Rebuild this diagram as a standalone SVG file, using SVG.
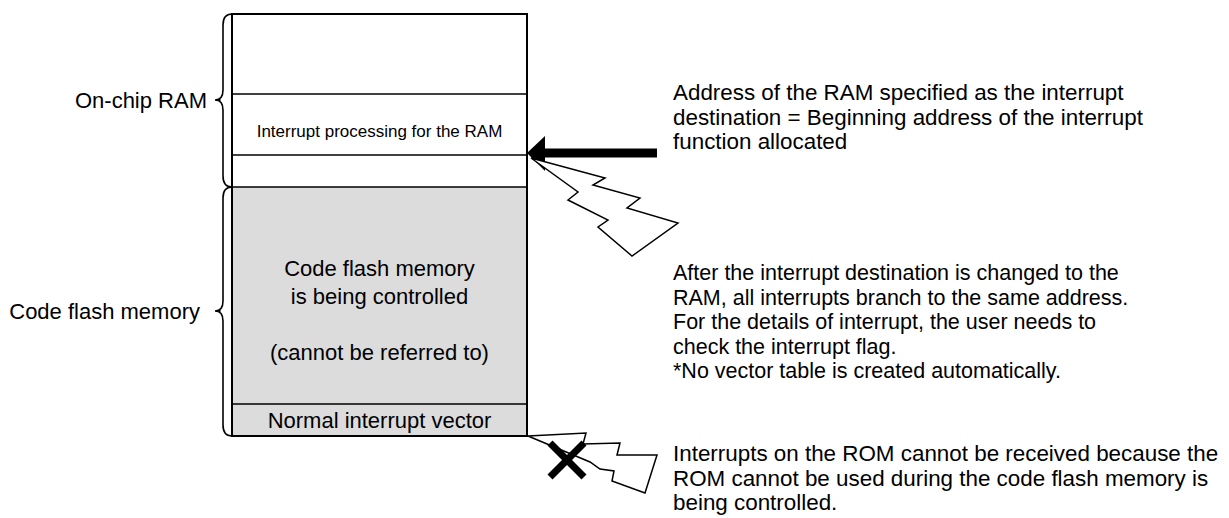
<svg xmlns="http://www.w3.org/2000/svg" width="1229" height="518" viewBox="0 0 1229 518">
<style>
text{font-family:"Liberation Sans",Arial,sans-serif;fill:#000}
.big{font-size:22px}
.mid{font-size:21.5px}
.wide{font-size:22.4px}
.sm{font-size:17px}
.ln{stroke:#000;stroke-width:1.5;fill:none}
.br{stroke:#000;stroke-width:1.6;fill:none}
.bolt{fill:#fff;stroke:#000;stroke-width:1.5;stroke-linejoin:miter}
</style>
<rect width="1229" height="518" fill="#fff"/>
<g id="memory">
<rect x="232" y="187" width="295" height="249" fill="#dcdcdc"/>
<rect x="232" y="14" width="295" height="422" fill="none" stroke="#000" stroke-width="2"/>
<line class="ln" x1="232" y1="94" x2="527" y2="94"/>
<line class="ln" x1="232" y1="155" x2="527" y2="155"/>
<line class="ln" x1="232" y1="187" x2="527" y2="187"/>
<line class="ln" x1="232" y1="404" x2="527" y2="404"/>
</g>
<g id="ram-interrupt">
<text class="sm" x="379.5" y="137" text-anchor="middle">Interrupt processing for the RAM</text>
</g>
<g id="flash-controlled">
<text class="big" x="379.5" y="276" text-anchor="middle">Code flash memory</text>
<text class="big" x="379.5" y="304" text-anchor="middle">is being controlled</text>
<text class="big" x="379.5" y="360" text-anchor="middle">(cannot be referred to)</text>
</g>
<g id="normal-vector">
<text class="big" x="379.5" y="428" text-anchor="middle">Normal interrupt vector</text>
</g>
<g id="onchip-ram-label">
<path class="br" d="M232,14 Q223,14 223,25 L223,90 Q223,100 215,100 Q223,100 223,110 L223,176 Q223,187 232,187"/>
<circle cx="219.5" cy="100" r="1.2" fill="#000"/>
<text class="big" x="207" y="108" text-anchor="end">On-chip RAM</text>
</g>
<g id="flash-label">
<path class="br" d="M232,187 Q223,187 223,198 L223,301 Q223,311 215,311 Q223,311 223,321 L223,425 Q223,436 232,436"/>
<circle cx="219.5" cy="311" r="1.2" fill="#000"/>
<text class="big" x="200" y="319" text-anchor="end">Code flash memory</text>
</g>
<g id="connectors">
<path d="M657,148.5 L545,148.5 L545,136 L527,153 L545,171 L545,157.5 L657,157.5 Z" fill="#000"/>
<polygon class="bolt" points="531,158 605,178 593,185 640,198 627,208 678,223 632,256 598,227 608,220 568,200 578,192"/>
<polygon class="bolt" points="528,436 586,433 583,444 620,443 617,455 657,455 645,493 612,481 614,471 600,469 590,462"/>
<g stroke="#000" stroke-width="7" stroke-linecap="butt">
<line x1="550" y1="443" x2="584" y2="477"/>
<line x1="584" y1="443" x2="550" y2="477"/>
</g>
</g>
<g id="note-address">
<text class="wide" x="673" y="100">Address of the RAM specified as the interrupt</text>
<text class="wide" x="673" y="125">destination = Beginning address of the interrupt</text>
<text class="wide" x="673" y="149">function allocated</text>
</g>
<g id="note-branch">
<text class="mid" x="673" y="280">After the interrupt destination is changed to the</text>
<text class="mid" x="673" y="305">RAM, all interrupts branch to the same address.</text>
<text class="mid" x="673" y="329">For the details of interrupt, the user needs to</text>
<text class="mid" x="673" y="354">check the interrupt flag.</text>
<text class="mid" x="673" y="378">*No vector table is created automatically.</text>
</g>
<g id="note-rom">
<text class="wide" x="673" y="461">Interrupts on the ROM cannot be received because the</text>
<text class="wide" x="673" y="486">ROM cannot be used during the code flash memory is</text>
<text class="wide" x="673" y="510">being controlled.</text>
</g>
</svg>
